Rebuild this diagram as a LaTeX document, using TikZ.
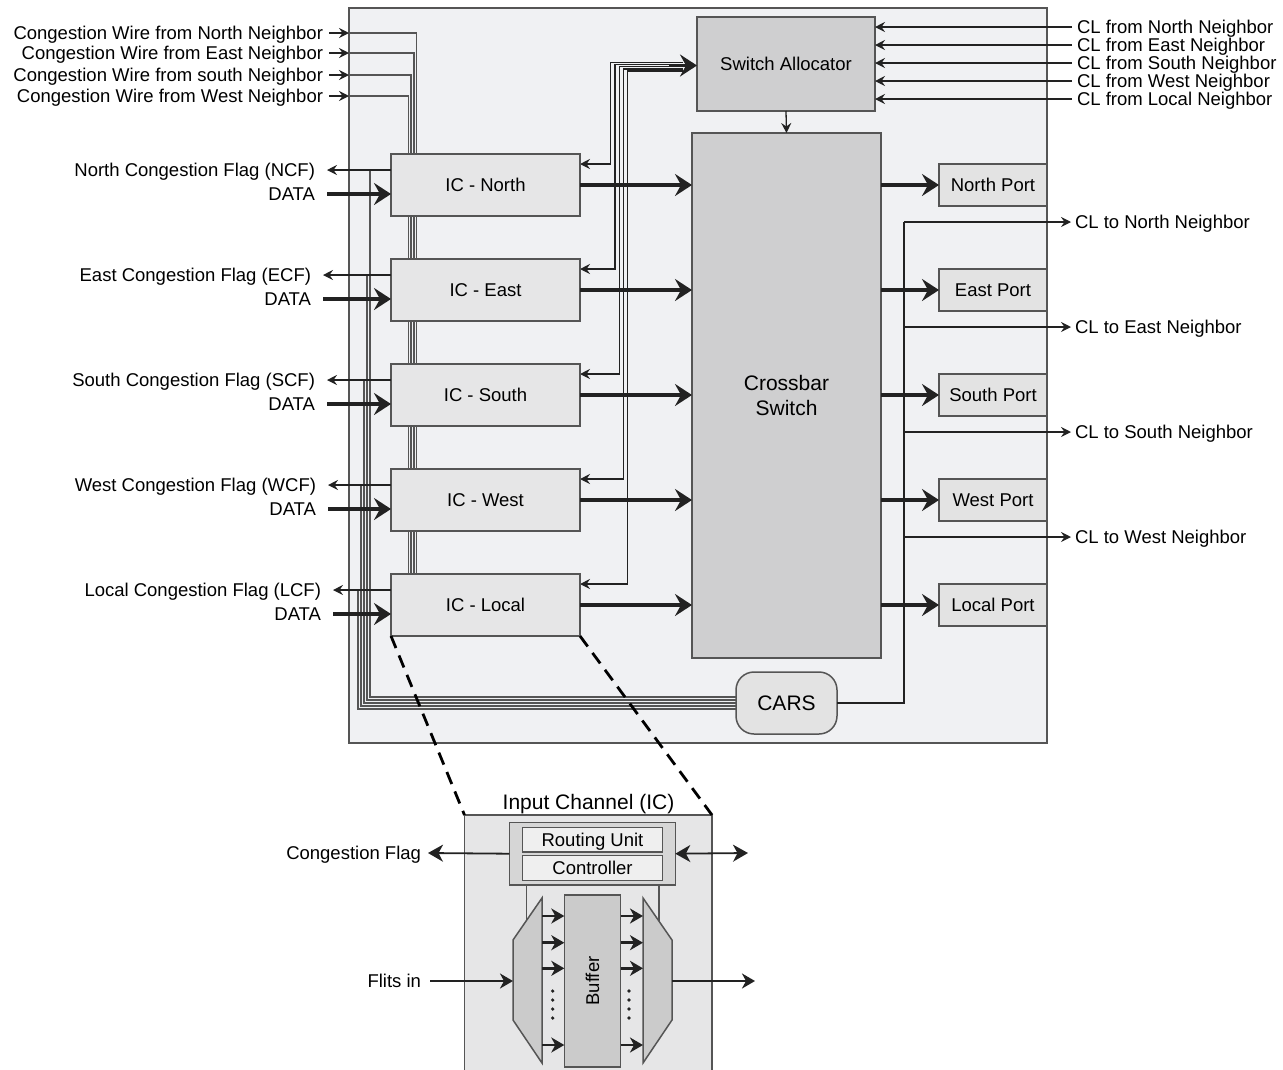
\documentclass[tikz,border=0pt]{standalone}
\usepackage{fontspec}
\setmainfont{Liberation Sans}
\usetikzlibrary{arrows.meta,calc}
\pgfdeclarelayer{back}
\pgfdeclarelayer{wires}
\pgfsetlayers{back,wires,main}
\definecolor{mainbg}{HTML}{F0F1F3}
\definecolor{icbg}{HTML}{E6E6E7}
\definecolor{darkbg}{HTML}{CFCFD0}
\definecolor{portbg}{HTML}{E3E3E3}
\definecolor{ctrlbg}{HTML}{D6D6D6}
\definecolor{lightbg}{HTML}{EFEFEF}
\definecolor{muxbg}{HTML}{CBCBCB}
\definecolor{edge}{HTML}{555555}
\definecolor{ink}{HTML}{222222}
\begin{document}
\begin{tikzpicture}[x=1pt,y=-1pt,
  every node/.style={inner sep=0pt,outer sep=0pt},
  txt/.style={font=\fontsize{18.5}{20}\selectfont,text height=13.3pt,text depth=0pt},
  bigtxt/.style={font=\fontsize{21}{25}\selectfont},
  blk/.style={draw=edge,line width=1.5pt,fill=icbg,txt},
  wire/.style={draw=ink,line width=1.3pt},
  gwire/.style={draw=edge,line width=1.3pt},
  tarr/.style={wire,-{Stealth[length=10pt,width=10pt,inset=3.5pt]}},
  fat/.style={draw=ink,line width=3.4pt,-{Stealth[length=17pt,width=22pt,inset=6pt]}},
  mid/.style={draw=ink,line width=2.8pt,-{Stealth[length=13pt,width=15pt,inset=4pt]}},
  marr/.style={draw=ink,line width=1.8pt,-{Stealth[length=15pt,width=17pt,inset=4.5pt]}},
  zoomline/.style={draw=black,line width=2.8pt,dash pattern=on 13pt off 8pt},
]
\useasboundingbox (0,0) rectangle (1283,1069);
% ---------------- main router box
\begin{pgfonlayer}{back}
\node[draw=edge,line width=1.5pt,fill=mainbg,minimum width=698pt,minimum height=735pt] (main) at (698,375.5) {};
\end{pgfonlayer}
% ---------------- blocks
\foreach \nm/\lab/\y in {icN/North/185, icE/East/290, icS/South/395, icW/West/500, icL/Local/605}
  \node[blk,minimum width=189pt,minimum height=62pt] (\nm) at (485.5,\y) {IC - \lab};
\node[blk,fill=darkbg,minimum width=178pt,minimum height=94pt] (sa) at (786,64) {Switch Allocator};
\node[draw=edge,line width=1.5pt,fill=darkbg,minimum width=189pt,minimum height=525pt,bigtxt,align=center] (xb) at (786.5,395.5) {Crossbar\\Switch};
\foreach \nm/\lab/\y in {pN/North/185, pE/East/290, pS/South/395, pW/West/500, pL/Local/605}
  \node[blk,fill=portbg,minimum width=108pt,minimum height=42pt] (\nm) at (993,\y) {\lab\ Port};
\node[draw=edge,line width=1.5pt,fill=portbg,rounded corners=18pt,minimum width=101pt,minimum height=62pt,bigtxt] (cars) at (786.5,703) {CARS};
% ---------------- congestion wires from neighbours
\foreach \nm/\lab/\y/\xo in {cw1/North/33/25.5, cw2/East/53/23, cw3/south/75/20, cw4/West/96/17.5} {
  \node[txt,anchor=east] (\nm) at (323,\y) {Congestion Wire from \lab\ Neighbor};
  \begin{pgfonlayer}{wires}
  \draw[gwire] (\nm -| main.west) -| ($(icL.north west)+(\xo,0)$);
  \end{pgfonlayer}
  \draw[tarr] ($(\nm.east)+(6,0)$) -- (\nm -| main.west);
}
% ---------------- congestion flags and data inputs
\foreach \nm/\ic/\lab/\ab/\ex/\fy/\dy/\k in {ncf/icN/North/N/315/170/194/0, ecf/icE/East/E/311/275/299/1, scf/icS/South/S/315/380/404/2, wcf/icW/West/W/316/485/509/3, lcf/icL/Local/L/321/590/614/4} {
  \node[txt,anchor=east] (\nm) at (\ex,\fy) {\lab\ Congestion Flag (\ab CF)};
  \node[txt,anchor=east] (d\nm) at (\ex,\dy) {DATA};
  \draw[tarr] (\nm -| \ic.west) -- ($(\nm.east)+(12,0)$);
  \draw[fat] ($(d\nm.east)+(12,0)$) -- (d\nm -| \ic.west);
  \begin{pgfonlayer}{wires}
  \draw[gwire] ($(\nm -| \ic.west)+({-21-3*\k},0)$) |- ($(cars.west)+(0,{-6+3*\k})$);
  \end{pgfonlayer}
}
% ---------------- switch allocator request/grant lines
\begin{pgfonlayer}{wires}
\foreach \ic/\k in {icN/0,icE/1,icS/2,icW/3,icL/4}
  \draw[tarr] ($(sa.west)+(-14,{-1.7+2.2*\k})$) -- ({610.7+4.25*\k},{62.3+2.2*\k}) |- ($(\ic.north east)+(0,10)$);
\end{pgfonlayer}
\draw[fat] ($(sa.west)+(-28,1.5)$) -- ($(sa.west)+(0,1.5)$);
\draw[tarr] (sa.south) -- (xb.north);
% ---------------- data paths
\foreach \ic in {icN,icE,icS,icW,icL}
  \draw[fat] (\ic.east) -- (\ic -| xb.west);
\foreach \p in {pN,pE,pS,pW,pL}
  \draw[fat] (\p -| xb.east) -- (\p.west);
% ---------------- CL from neighbours
\foreach \nm/\lab/\y in {clf1/North/27, clf2/East/45, clf3/South/63, clf4/West/81, clf5/Local/99} {
  \node[txt,anchor=west] (\nm) at (1077,\y) {CL from \lab\ Neighbor};
  \draw[tarr] ($(\nm.west)+(-5,0)$) -- (\nm -| sa.east);
}
% ---------------- CL to neighbours
\foreach \nm/\lab/\y in {clt1/North/222, clt2/East/327, clt3/South/432, clt4/West/537} {
  \node[txt,anchor=west] (\nm) at (1075,\y) {CL to \lab\ Neighbor};
  \draw[tarr] ($(\nm.west)+(-171,0)$) -- ($(\nm.west)+(-4,0)$);
}
\draw[wire] (cars.east) -| ($(clt1.west)+(-171,0)$);
% ---------------- input channel detail
\node[draw=edge,line width=1.5pt,fill=icbg,minimum width=247.5pt,minimum height=270pt,anchor=north] (icx) at (588.25,815) {};
\node[bigtxt,anchor=base] (ictitle) at (588.5,809.5) {Input Channel (IC)};
\draw[zoomline] (icL.south west) -- (icx.north west);
\draw[zoomline] (icL.south east) -- (icx.north east);
\node[draw=edge,line width=1.5pt,fill=ctrlbg,minimum width=166pt,minimum height=62.7pt] (rb) at (592.3,853.7) {};
\node[draw=edge,line width=1.3pt,fill=lightbg,minimum width=139.6pt,minimum height=24.7pt,txt] (ru) at (592.5,839.7) {Routing Unit};
\node[draw=edge,line width=1.3pt,fill=lightbg,minimum width=139.6pt,minimum height=24.7pt,txt] (ctl) at (592.5,868) {Controller};
\node[txt,anchor=east] (cfl) at (421,853) {Congestion Flag};
\draw[marr] (rb.west) -- ($(cfl.east)+(7,0)$);
\coordinate (rbout) at (748,853);
\draw[draw=ink,line width=1.8pt,{Stealth[length=15pt,width=17pt,inset=4.5pt]}-{Stealth[length=15pt,width=17pt,inset=4.5pt]}] (rb.east) -- (rbout);
% muxes
\coordinate (mLa) at (542,898); \coordinate (mLb) at (542,1063);
\coordinate (mLc) at (513,1020); \coordinate (mLd) at (513,940);
\coordinate (mRa) at (643,898); \coordinate (mRb) at (672,940);
\coordinate (mRc) at (672,1020); \coordinate (mRd) at (643,1063);
\coordinate (vl) at ($(mLd)!0.47!(mLa)$);
\coordinate (vr) at ($(mRa)!0.55!(mRb)$);
\draw[gwire,line width=1.5pt] (vl |- rb.south) -- (vl);
\draw[gwire,line width=1.5pt] (vr |- rb.south) -- (vr);
\draw[draw=edge,line width=1.5pt,fill=muxbg] (mLa) -- (mLb) -- (mLc) -- (mLd) -- cycle;
\draw[draw=edge,line width=1.5pt,fill=muxbg] (mRa) -- (mRb) -- (mRc) -- (mRd) -- cycle;
\node[draw=edge,line width=1.5pt,fill=muxbg,minimum width=56.4pt,minimum height=172pt] (buf) at (592.5,981) {};
\node[txt,rotate=90] (buftxt) at (buf.center) {Buffer};
\foreach \y in {916,942.7,968.3,1045} {
  \draw[mid] ($(buf.west)+(-22.3,{\y-981})$) -- ($(buf.west)+(0,{\y-981})$);
  \draw[mid] ($(buf.east)+(0,{\y-981})$) -- ($(buf.east)+(22.3,{\y-981})$);
}
\foreach \y in {991,1000,1009,1018} {
  \fill[ink] ($(buf.west)+(-11.6,{\y-981})$) circle (1.8pt);
  \fill[ink] ($(buf.east)+(8.3,{\y-981})$) circle (1.8pt);
}
\node[txt,anchor=east] (fin) at (421,981) {Flits in};
\coordinate (mLin) at (513,981);
\coordinate (mRout) at (672,981);
\coordinate (fout) at (755,981);
\draw[mid] ($(fin.east)+(9,0)$) -- (mLin);
\draw[mid] (mRout) -- (fout);
\end{tikzpicture}
\end{document}
